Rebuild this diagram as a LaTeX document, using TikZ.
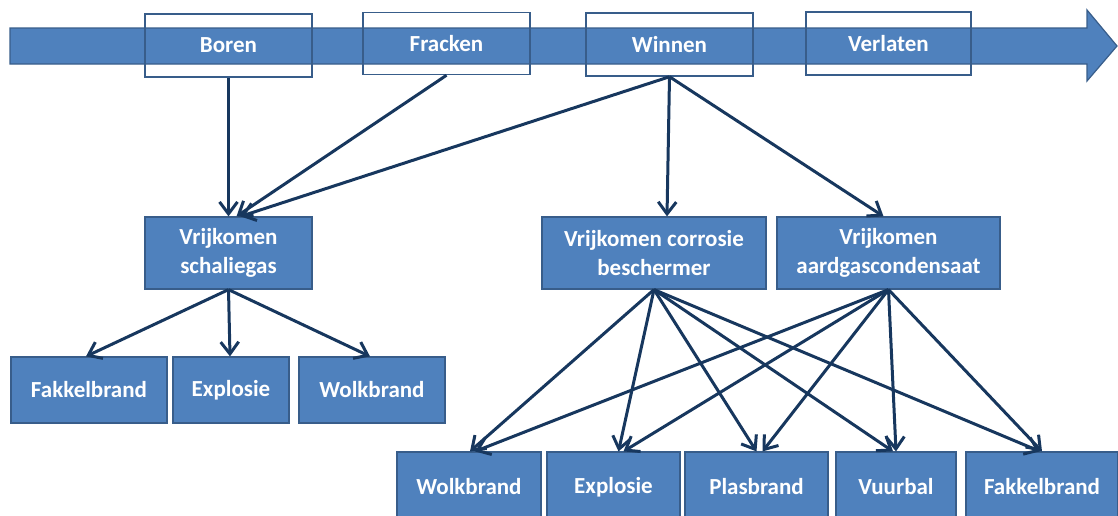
\documentclass[tikz,border=0pt]{standalone}
\usepackage{fontspec}
\setmainfont{Carlito}
\usetikzlibrary{arrows.meta}
\definecolor{boxblue}{RGB}{79,129,189}
\definecolor{edgeblue}{RGB}{56,93,138}
\definecolor{linkblue}{RGB}{23,55,94}
\tikzstyle{phase}=[draw=edgeblue,line width=1.5pt,minimum width=167pt,minimum height=63pt,inner sep=0pt,text=white,font=\fontsize{23}{28}\selectfont\bfseries]
\tikzstyle{event}=[draw=edgeblue,fill=boxblue,line width=1.2pt,inner sep=0pt,align=center,text=white,font=\fontsize{23}{29}\selectfont\bfseries]
\tikzstyle{link}=[draw=linkblue,line width=3pt,-{Straight Barb[length=12pt,width=18pt,line width=3pt]}]

\begin{document}
\begin{tikzpicture}[x=1pt,y=-1pt]
  \useasboundingbox (0,0) rectangle (1118,515);
  \clip (0,0) rectangle (1118,515);
  \draw[draw=edgeblue,fill=boxblue,line width=1.2pt] (10,28) -- (1087,28) -- (1087,10) -- (1117,46) -- (1087,81) -- (1087,64) -- (10,64) -- cycle;

  \node[phase] (boren) at (228.5,45.5) {Boren};
  \node[phase,minimum height=62pt] (fracken) at (446.5,43.5) {Fracken};
  \node[phase] (winnen) at (669.5,44.5) {Winnen};
  \node[phase,minimum width=165pt] (verlaten) at (888.5,43.5) {Verlaten};

  \node[event,minimum width=167pt,minimum height=72pt] (schalie) at (228.5,253) {Vrijkomen\\schaliegas};
  \node[event,minimum width=224pt,minimum height=72pt] (corrosie) at (654,253) {Vrijkomen corrosie\\beschermer};
  \node[event,minimum width=223pt,minimum height=72pt] (condensaat) at (888.5,253) {Vrijkomen\\aardgascondensaat};

  \node[event,minimum width=156pt,minimum height=66pt] (fakkelA) at (89,390) {Fakkelbrand};
  \node[event,minimum width=116pt,minimum height=66pt] (explosieA) at (231,390) {Explosie};
  \node[event,minimum width=146pt,minimum height=66pt] (wolkA) at (372,390) {Wolkbrand};

  \node[event,minimum width=144pt,minimum height=70pt] (wolkB) at (469,487) {Wolkbrand};
  \node[event,minimum width=133pt,minimum height=70pt] (explosieB) at (613.5,487) {Explosie};
  \node[event,minimum width=143pt,minimum height=70pt] (plasB) at (756.5,487) {Plasbrand};
  \node[event,minimum width=120pt,minimum height=70pt] (vuurB) at (896,487) {Vuurbal};
  \node[event,minimum width=152pt,minimum height=70pt] (fakkelB) at (1042,487) {Fakkelbrand};

  \draw[link] (boren.south) -- (schalie.north);
  \draw[link] (fracken.south) -- ([xshift=8pt]schalie.north);
  \draw[link] (winnen.south) -- ([xshift=12pt]schalie.north);
  \draw[link] (winnen.south) -- ([xshift=13pt]corrosie.north);
  \draw[link] (winnen.south) -- ([xshift=-5pt]condensaat.north);

  \draw[link] (schalie.south) -- ([xshift=-3pt]fakkelA.north);
  \draw[link] (schalie.south) -- ([xshift=-1pt]explosieA.north);
  \draw[link] (schalie.south) -- ([xshift=-2pt]wolkA.north);

  \foreach \t/\a/\b in {wolkB/1/6, explosieB/5/10, plasB/0/6, vuurB/-3/0, fakkelB/-2/0}{
    \draw[link] (corrosie.south) -- ([xshift=\a pt]\t.north);
    \draw[link] (condensaat.south) -- ([xshift=\b pt]\t.north);
  }
\end{tikzpicture}
\end{document}
